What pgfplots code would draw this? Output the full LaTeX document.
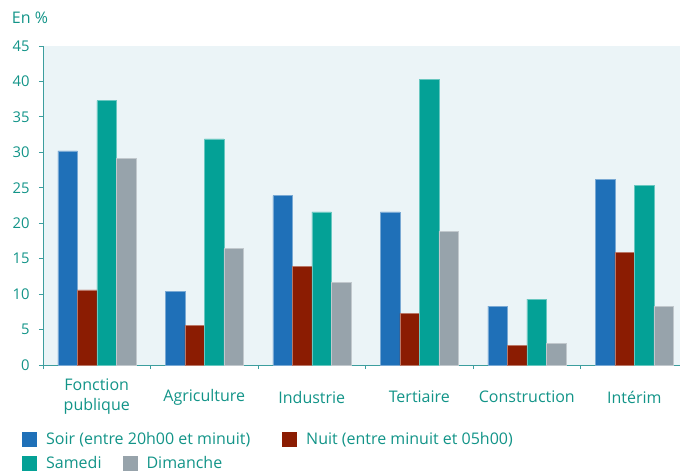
\documentclass[border=0pt]{standalone}
\usepackage{fontspec}
\setmainfont{Open Sans}
\usepackage{pgfplots}
\usepackage{pgfplotstable}
\pgfplotsset{compat=1.18}
\definecolor{tealtxt}{RGB}{18,148,136}
\definecolor{axcol}{RGB}{60,158,158}
\definecolor{bgc}{RGB}{235,244,247}
\definecolor{cblue}{RGB}{31,112,184}
\definecolor{cred}{RGB}{139,28,2}
\definecolor{cgreen}{RGB}{4,161,150}
\definecolor{cgray}{RGB}{151,163,171}
\pgfplotstableread{
x soir nuit samedi dimanche
0 30.2 10.6 37.3 29.2
1 10.4 5.6 31.9 16.4
2 23.9 13.9 21.6 11.7
3 21.6 7.3 40.3 18.9
4 8.3 2.8 9.3 3.0
5 26.2 15.9 25.3 8.3
}\data
\newcommand{\fs}{\fontsize{16bp}{20bp}\selectfont}
\newcommand{\ft}{\fontsize{14.8bp}{18bp}\selectfont}
\pgfplotsset{
  mylegend/.style={
    legend style={draw=none, fill=none, inner sep=0pt, font=\fs, text=tealtxt,
      legend columns=2, /tikz/every even column/.append style={column sep=#1}},
    legend cell align=left,
    legend image code/.code={\path[draw=none,fill=none] (0bp,0bp) -- (22bp,0bp);\fill[draw=none] (0bp,-7.5bp) rectangle (15bp,7.5bp);},
  },
  common/.style={
    at={(43bp,109bp)}, anchor=south west,
    scale only axis, width=637bp, height=319bp,
    xmin=-0.5, xmax=5.425, ymin=0, ymax=45,
  }
}
\begin{document}
\begin{tikzpicture}
\begin{axis}[common,
  ybar=0pt, bar width=19.5bp,
  axis x line*=bottom, axis y line*=left,
  axis background/.style={fill=bgc},
  axis line style={axcol, line width=0.8bp},
  tick align=outside, major tick length=4bp, minor tick length=4bp,
  ytick={0,5,...,45},
  xtick={0,...,5},
  xticklabels={{Fonction\\publique},Agriculture,Industrie,Tertiaire,Construction,Intérim},
  minor xtick={-0.5,0.5,...,5.5},
  major x tick style={draw=none},
  minor x tick style={axcol, line width=0.8bp},
  ytick style={axcol, line width=0.8bp},
  /pgf/number format/assume math mode=true,
  yticklabel style={font=\ft, text=tealtxt, xshift=-6bp},
  xticklabel style={font=\fs, text=tealtxt, align=center, anchor=center, yshift=-28bp},
  mylegend=30bp,
  legend style={at={(axis description cs:-0.033,-0.234)}, anchor=west},
  clip=false,
]
\addplot[fill=cblue, draw=cblue!60!white, line width=0.5bp] table[x=x,y=soir]{\data};
\addlegendentry{Soir (entre 20h00 et minuit)}
\addplot[fill=cred, draw=cred!60!white, line width=0.5bp] table[x=x,y=nuit]{\data};
\addlegendentry{Nuit (entre minuit et 05h00)}
\addplot[fill=cgreen, draw=cgreen!60!white, line width=0.5bp] table[x=x,y=samedi]{\data};
\addplot[fill=cgray, draw=cgray!60!white, line width=0.5bp] table[x=x,y=dimanche]{\data};
\node[font=\fs, text=tealtxt, anchor=center] at (axis description cs:-0.0204,1.088) {En \%};
\end{axis}
\begin{axis}[common, hide axis, mylegend=19bp,
  legend style={at={(axis description cs:-0.033,-0.309)}, anchor=west}]
\addlegendimage{fill=cgreen, draw=none}
\addlegendentry{Samedi}
\addlegendimage{fill=cgray, draw=none}
\addlegendentry{Dimanche}
\end{axis}
\pgfresetboundingbox
\path[use as bounding box] (0,0) rectangle (680bp,474bp);
\end{tikzpicture}
\end{document}
